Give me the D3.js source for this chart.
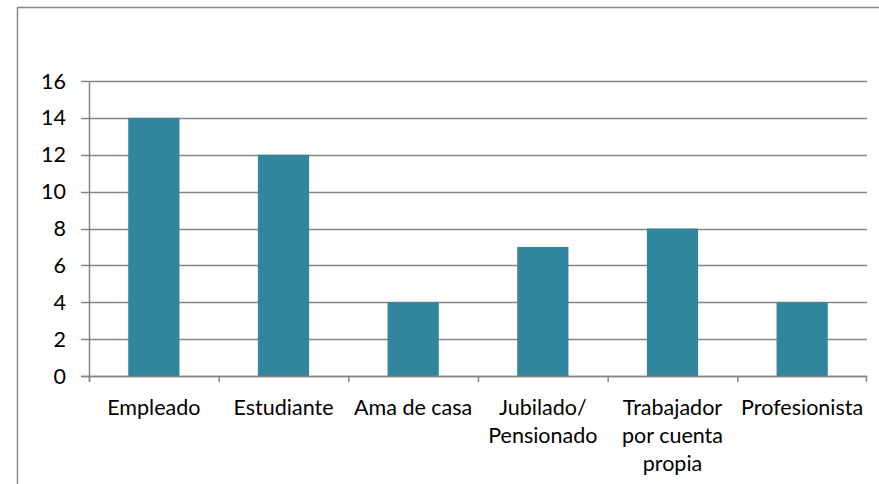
<!DOCTYPE html>
<html>
<head>
<meta charset="utf-8">
<script src="https://cdn.jsdelivr.net/npm/d3@7"></script>
<style>
  body { margin: 0; background: #fff; }
  text { font-family: Lato, "Open Sans", sans-serif; fill: #000; }
</style>
</head>
<body>
<script>
var w = 879;
var h = 484;

// data
var categories = [["Empleado"], ["Estudiante"], ["Ama de casa"], ["Jubilado/", "Pensionado"], ["Trabajador", "por cuenta", "propia"], ["Profesionista"]];
var values = [14, 12, 4, 7, 8, 4];
var yTicks = [0, 2, 4, 6, 8, 10, 12, 14, 16];

var barColor = "#31859C";
var gridColor = "#868686";
var plotLeft = 89, plotRight = 867, plotTop = 81, plotBottom = 376;
var fontSize = "21.5px";

var svg = d3.select("body").append("svg")
  .attr("width", w)
  .attr("height", h);

// outer frame
svg.append("rect")
  .attr("x", 17.5).attr("y", 7.5)
  .attr("width", w).attr("height", h)
  .attr("fill", "none")
  .attr("stroke", "#888")
  .attr("stroke-width", 1.5);

var x = d3.scaleBand()
  .domain(d3.range(categories.length))
  .range([plotLeft, plotRight]);

var y = d3.scaleLinear()
  .domain([0, 16])
  .range([plotBottom, plotTop]);

// gridlines + y ticks
svg.selectAll("line.grid")
  .data(yTicks)
  .enter()
  .append("line")
  .attr("x1", plotLeft - 8)
  .attr("x2", plotRight)
  .attr("y1", function(d) { return Math.round(y(d)) + 0.5; })
  .attr("y2", function(d) { return Math.round(y(d)) + 0.5; })
  .style("stroke", gridColor)
  .style("stroke-width", 1.5);

// bars
var barW = x.bandwidth() * 0.395;
svg.selectAll("rect.bar")
  .data(values)
  .enter()
  .append("rect")
  .attr("x", function(d, i) { return x(i) + (x.bandwidth() - barW) / 2; })
  .attr("y", function(d) { return y(d); })
  .attr("width", barW)
  .attr("height", function(d) { return y(0) - y(d); })
  .attr("fill", barColor);

// redraw baseline on top of bars
svg.append("line")
  .attr("x1", plotLeft - 8).attr("x2", plotRight)
  .attr("y1", Math.round(y(0)) + 0.5).attr("y2", Math.round(y(0)) + 0.5)
  .style("stroke", gridColor).style("stroke-width", 1.5);

// y axis line
svg.append("line")
  .attr("x1", plotLeft + 0.5).attr("x2", plotLeft + 0.5)
  .attr("y1", plotTop).attr("y2", plotBottom + 6)
  .style("stroke", gridColor).style("stroke-width", 1.5);

// x tick marks at category boundaries
svg.selectAll("line.xtick")
  .data(d3.range(categories.length + 1))
  .enter()
  .append("line")
  .attr("x1", function(i) { return i < categories.length ? x(i) + 0.5 : plotRight - 0.5; })
  .attr("x2", function(i) { return i < categories.length ? x(i) + 0.5 : plotRight - 0.5; })
  .attr("y1", plotBottom)
  .attr("y2", plotBottom + 6)
  .style("stroke", gridColor).style("stroke-width", 1.5);

// y labels
svg.selectAll("text.ylab")
  .data(yTicks)
  .enter()
  .append("text")
  .attr("x", 66)
  .attr("y", function(d) { return y(d); })
  .attr("dy", "0.35em")
  .attr("text-anchor", "end")
  .attr("font-size", fontSize)
  .text(function(d) { return d; });

// x labels
var xl = svg.selectAll("text.xlab")
  .data(categories)
  .enter()
  .append("text")
  .attr("text-anchor", "middle")
  .attr("font-size", fontSize);

xl.selectAll("tspan")
  .data(function(d, i) { return d.map(function(t) { return {t: t, i: i}; }); })
  .enter()
  .append("tspan")
  .attr("x", function(d) { return x(d.i) + x.bandwidth() / 2; })
  .attr("y", function(d, j) { return 415 + j * 28; })
  .text(function(d) { return d.t; });
</script>
</body>
</html>
